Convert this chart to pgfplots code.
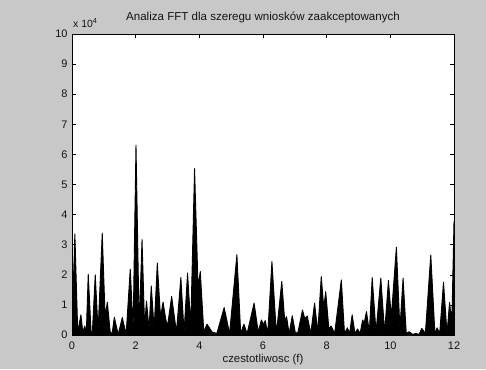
\documentclass[border=0pt]{standalone}
\usepackage{fontspec}
\setmainfont{Liberation Sans}
\usepackage{pgfplots}
\pgfplotsset{compat=1.18}
\definecolor{bggray}{RGB}{200,200,200}
\definecolor{txt}{RGB}{20,20,20}
\begin{document}
\begin{tikzpicture}[x=1bp,y=1bp]
\fill[bggray] (0,0) rectangle (486,369);
\begin{axis}[
  at={(72bp,34bp)}, anchor=south west,
  scale only axis, width=382bp, height=301bp,
  xmin=0, xmax=12, ymin=0, ymax=10,
  xtick={0,2,...,12}, ytick={0,1,...,10},
  tick align=inside, major tick length=4bp,
  axis background/.style={fill=white},
  axis line style={line width=0.6pt},
  every tick/.style={line width=0.5pt, black},
  tick label style={font=\fontsize{11}{13}\selectfont, text=txt},
  /pgf/number format/assume math mode=true,
  xticklabel style={yshift=-3.5bp},
  yticklabel style={xshift=-1bp},
  title={Analiza FFT dla szeregu wniosków zaakceptowanych},
  title style={font=\fontsize{11.6}{13}\selectfont, text=txt, at={(0.5,1)}, anchor=base, yshift=8bp},
  xlabel={czestotliwosc (f)},
  xlabel style={font=\fontsize{11.4}{13}\selectfont, text=txt, yshift=2bp},
  clip=true,
]
\addplot[fill=black, draw=black, line width=0.9pt, line join=round] coordinates {
(0.00,0.30) (0.09,3.36) (0.18,0.10) (0.28,0.67) (0.34,0.10) (0.40,0.30)
(0.45,0.10) (0.51,2.02) (0.60,0.10) (0.64,0.10) (0.73,2.00) (0.82,0.15)
(0.95,3.39) (1.04,0.60) (1.11,1.09) (1.20,0.10) (1.26,0.05) (1.33,0.59)
(1.45,0.02) (1.58,0.58) (1.70,0.02) (1.83,2.19) (1.92,0.20) (2.01,6.31)
(2.11,0.30) (2.20,3.17) (2.28,0.30) (2.34,1.13) (2.42,0.20) (2.49,1.63)
(2.58,0.20) (2.68,2.39) (2.78,0.60) (2.86,1.09) (2.95,0.50) (3.00,0.30)
(3.13,1.28) (3.28,0.10) (3.42,1.91) (3.52,0.10) (3.63,2.06) (3.73,0.30)
(3.85,5.53) (3.96,1.60) (4.03,2.11) (4.14,0.10) (4.24,0.36) (4.40,0.10)
(4.55,0.05) (4.78,0.91) (4.95,0.05) (5.18,2.67) (5.30,0.05) (5.40,0.36)
(5.50,0.05) (5.72,1.06) (5.85,0.10) (5.95,0.50) (6.01,0.35) (6.07,0.48)
(6.15,0.05) (6.28,2.44) (6.42,0.05) (6.59,1.78) (6.68,0.50) (6.74,0.61)
(6.82,0.05) (6.92,0.64) (7.02,0.05) (7.10,0.10) (7.24,0.83) (7.31,0.55)
(7.39,0.63) (7.50,0.05) (7.62,1.06) (7.72,0.10) (7.83,1.94) (7.91,0.90)
(7.97,1.44) (8.07,0.20) (8.14,0.30) (8.25,0.05) (8.46,1.83) (8.56,0.05)
(8.65,0.24) (8.72,0.05) (8.80,0.67) (8.89,0.05) (8.97,0.20) (9.05,0.05)
(9.13,0.50) (9.18,0.40) (9.25,0.78) (9.34,0.10) (9.43,1.91) (9.55,0.10)
(9.70,1.89) (9.82,0.10) (9.94,1.81) (10.03,0.60) (10.19,2.92) (10.30,0.20)
(10.40,1.89) (10.50,0.05) (10.59,0.11) (10.70,0.02) (10.80,0.05) (10.90,0.02)
(10.99,0.22) (11.10,0.05) (11.27,2.66) (11.40,0.05) (11.47,0.24) (11.55,0.05)
(11.67,1.76) (11.78,0.05) (11.86,1.08) (11.91,0.60) (11.94,0.83) (12.00,3.78)
} \closedcycle;
\end{axis}
\node[anchor=base west, font=\fontsize{10.5}{12}\selectfont, text=txt, inner sep=0pt] at (73,342) {x 10\textsuperscript{4}};
\end{tikzpicture}
\end{document}
